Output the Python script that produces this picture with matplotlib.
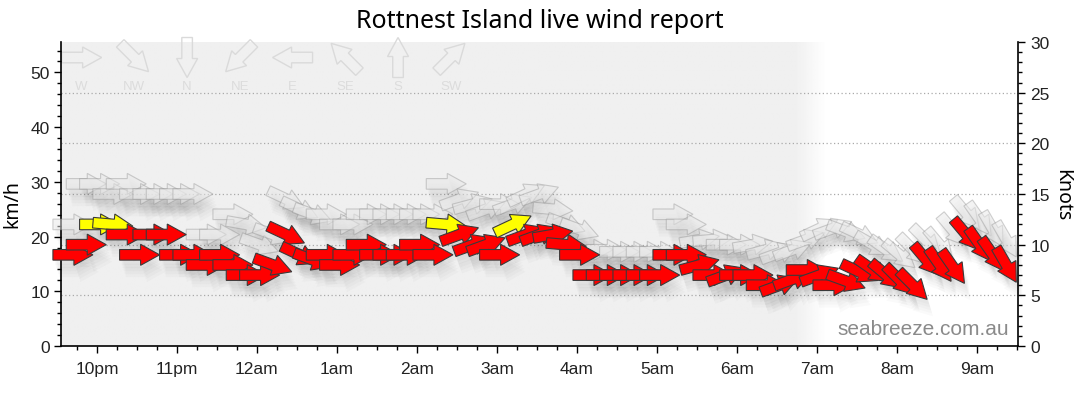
import numpy as np
import matplotlib.pyplot as plt
import matplotlib.transforms as mtransforms
from matplotlib.patches import Polygon

# observation times, 10 minute readings
times = ["21:42", "21:52",
         "22:02", "22:12", "22:22", "22:32", "22:42", "22:52",
         "23:02", "23:12", "23:22", "23:32", "23:42", "23:52",
         "00:02", "00:12", "00:22", "00:32", "00:42", "00:52",
         "01:02", "01:12", "01:22", "01:32", "01:42", "01:52",
         "02:02", "02:12", "02:22", "02:32", "02:42", "02:52",
         "03:02", "03:12", "03:22", "03:32", "03:42", "03:52",
         "04:02", "04:12", "04:22", "04:32", "04:42", "04:52",
         "05:02", "05:12", "05:22", "05:32", "05:42", "05:52",
         "06:02", "06:12", "06:22", "06:32", "06:42", "06:52",
         "07:02", "07:12", "07:22", "07:32", "07:42", "07:52",
         "08:02", "08:12", "08:22", "08:32", "08:42", "08:52",
         "09:02", "09:12", "09:22"]

# average wind, knots / direction wind is from (deg)
avg_kn = [9, 10, 12, 12, 11, 9, 11, 11, 9, 9, 8, 9, 8, 7,
          7, 8, 11, 9, 8.5, 9, 8, 9, 10, 9, 9, 9, 10, 9,
          12, 11, 10, 10, 9, 12, 11, 11, 11, 10, 9,
          7, 7, 7, 7, 7, 7, 9, 9,
          8, 7, 7, 7, 7, 6, 6, 6.6, 7.5, 7, 6,
          6.4, 7.3, 7.5, 7, 6.5, 6, 8.5, 8, 7.8, 11, 10, 9, 8]
avg_dir = [270, 270, 270, 275, 270, 270, 270, 270, 270, 270, 270, 270, 270, 270,
           270, 290, 295, 295, 290, 270, 270, 270, 270, 270, 270, 270, 270, 270,
           275, 250, 250, 250, 270, 245, 250, 250, 260, 275, 270,
           270, 270, 270, 270, 270, 270, 270, 270,
           255, 270, 250, 270, 270, 270, 250, 250, 270, 250, 270,
           290, 295, 305, 310, 315, 315, 320, 325, 325, 320, 325, 325, 330]

# gusts
gust_kn = [12, 16, 16, 15, 16, 15, 15, 15, 15, 15, 11, 11, 13, 12,
           10, 11, 14.5, 13.5, 13, 13, 12, 12, 13, 13, 13, 13, 13, 13,
           16, 14.5, 14, 13.5, 14, 14, 15, 15, 13.5, 12, 11.5,
           9.5, 9.5, 9.3, 9.3, 9.3, 9.3, 13, 12,
           10.5, 10.5, 10, 10, 10, 9.5, 9.2, 9.5, 10.5, 11.6, 11.6,
           11.3, 11, 10, 9.5, 9, 9.5, 10.4, 10, 11.4, 13.1, 12.5, 11.5, 10.5]
gust_dir = [270, 270, 270, 270, 270, 270, 270, 270, 270, 270, 270, 270, 270, 280,
            290, 290, 295, 295, 290, 270, 270, 270, 270, 270, 270, 270, 270, 270,
            270, 250, 255, 250, 270, 250, 245, 250, 275, 290, 290,
            270, 270, 270, 270, 270, 270, 270, 270,
            260, 265, 270, 270, 260, 255, 250, 250, 250, 245, 250,
            290, 295, 300, 305, 310, 315, 315, 320, 320, 320, 325, 330, 330]

highlight = ["22:02", "22:12", "02:22", "03:12"]

compass = ["W", "NW", "N", "NE", "E", "SE", "S", "SW"]
compass_deg = [270, 315, 0, 45, 90, 135, 180, 225]

hour_labels = ["10pm", "11pm", "12am", "1am", "2am", "3am",
               "4am", "5am", "6am", "7am", "8am", "9am"]

KMH = 1.852


def minutes(s):
    h, m = map(int, s.split(":"))
    if h >= 12:
        return (h - 22) * 60 + m
    return (h + 2) * 60 + m


t = np.array([minutes(s) for s in times])

plt.rcParams['font.family'] = ['Liberation Sans', 'DejaVu Sans']

fig = plt.figure(figsize=(10.8, 4.14), dpi=100)
ax = fig.add_axes([0.0569, 0.1618, 0.8861, 0.7343])
x0, x1 = -26.6, 691.1
ax.set_xlim(x0, x1)
ax.set_ylim(0, 30 * KMH)

# night shading, fading out around sunrise
tt = np.linspace(x0, x1, 800)
shade = np.interp(tt, [525, 548], [0.941, 1.0])
ax.imshow(shade[np.newaxis, :], extent=[x0, x1, 0, 30 * KMH], cmap='gray',
          vmin=0, vmax=1, aspect='auto', zorder=0, interpolation='bilinear')

for k in [5, 10, 15, 20, 25]:
    ax.axhline(k * KMH, color='#aaaaaa', linestyle=(0, (1, 2)), lw=0.9, zorder=1)

# arrow shape in pixels, centred
ARROW = np.array([[-20, -5.3], [1, -5.3], [1, -10.5], [20, 0],
                  [1, 10.5], [1, 5.3], [-20, 5.3]])


def arrow(x, y, frm, base, dx=0, dy=0, **kw):
    a = np.deg2rad(-90 - frm)
    rot = np.array([[np.cos(a), -np.sin(a)], [np.sin(a), np.cos(a)]])
    pts = (ARROW @ rot.T + [dx, dy]) / fig.dpi
    tr = fig.dpi_scale_trans + mtransforms.ScaledTranslation(x, y, base)
    ax.add_patch(Polygon(pts, closed=True, transform=tr, clip_on=False, **kw))


# soft shadows
for spd, d in [(gust_kn, gust_dir), (avg_kn, avg_dir)]:
    for i in range(len(t)):
        for ox, oy in [(2, -5), (3, -8), (4, -11), (5, -14), (6, -17)]:
            arrow(t[i], spd[i] * KMH, d[i], ax.transData, ox, oy,
                  fc=(0, 0, 0, 0.018), ec='none', zorder=2)

for i in range(len(t)):
    arrow(t[i], gust_kn[i] * KMH, gust_dir[i], ax.transData,
          fc=(0.91, 0.91, 0.91, 0.5), ec=(0.55, 0.55, 0.55, 0.4), lw=0.8, zorder=3)

for i in range(len(t)):
    col = '#ffff00' if times[i] in highlight else '#ff0000'
    arrow(t[i], avg_kn[i] * KMH, avg_dir[i], ax.transData,
          fc=col, ec='#3a3a3a', lw=0.8, zorder=4)

# compass legend
for j, (name, d) in enumerate(zip(compass, compass_deg)):
    xa = 0.0211 + 0.0551 * j
    arrow(xa, 0.949, d, ax.transAxes, fc='none', ec='#dadada', lw=1.0, zorder=1.5)
    ax.text(xa, 0.855, name, transform=ax.transAxes, ha='center', va='center',
            fontsize=9.5, color='#dcdcdc', zorder=1.5)

ax.set_xticks(np.arange(0, 661, 60))
ax.set_xticklabels(hour_labels)
ax.set_xticks(np.arange(-15, 691, 15), minor=True)
ax.set_yticks(np.arange(0, 51, 10))
ax.set_yticks(np.arange(0, 56, 2), minor=True)
ax.tick_params(axis='both', which='major', length=5, width=1, labelsize=12.5, color='black',
               labelcolor='#222222')
ax.tick_params(axis='both', which='minor', length=3, width=1, color='black')
ax.tick_params(axis='x', pad=6)
ax.spines['top'].set_visible(False)
ax.spines['right'].set_visible(False)
for s in ['left', 'bottom']:
    ax.spines[s].set_linewidth(1.2)
ax.set_ylabel('km/h', fontsize=14, family=['Noto Sans', 'DejaVu Sans'])
ax.yaxis.set_label_coords(-0.041, 0.47)

ax2 = ax.twinx()
ax2.set_ylim(0, 30)
ax2.set_yticks(np.arange(0, 31, 5))
ax2.set_yticks(np.arange(0, 31, 1), minor=True)
ax2.tick_params(axis='y', which='major', length=5, width=1, labelsize=12.5, labelcolor='#222222')
ax2.tick_params(axis='y', which='minor', length=3, width=1)
for s in ['top', 'left', 'bottom']:
    ax2.spines[s].set_visible(False)
ax2.spines['right'].set_linewidth(1.2)
ax2.set_ylabel('Knots', fontsize=14, rotation=270, family=['Noto Sans', 'DejaVu Sans'])
ax2.yaxis.set_label_coords(1.056, 0.5)

ax.text(0.99, 0.056, 'seabreeze.com.au', transform=ax.transAxes, ha='right',
        va='center', fontsize=15, color='#8a8a8a', zorder=5)

fig.text(0.4995, 0.947, 'Rottnest Island live wind report', ha='center', va='center',
         fontsize=18, family=['Noto Sans', 'DejaVu Sans'])

fig.savefig('out.png', dpi=100)
